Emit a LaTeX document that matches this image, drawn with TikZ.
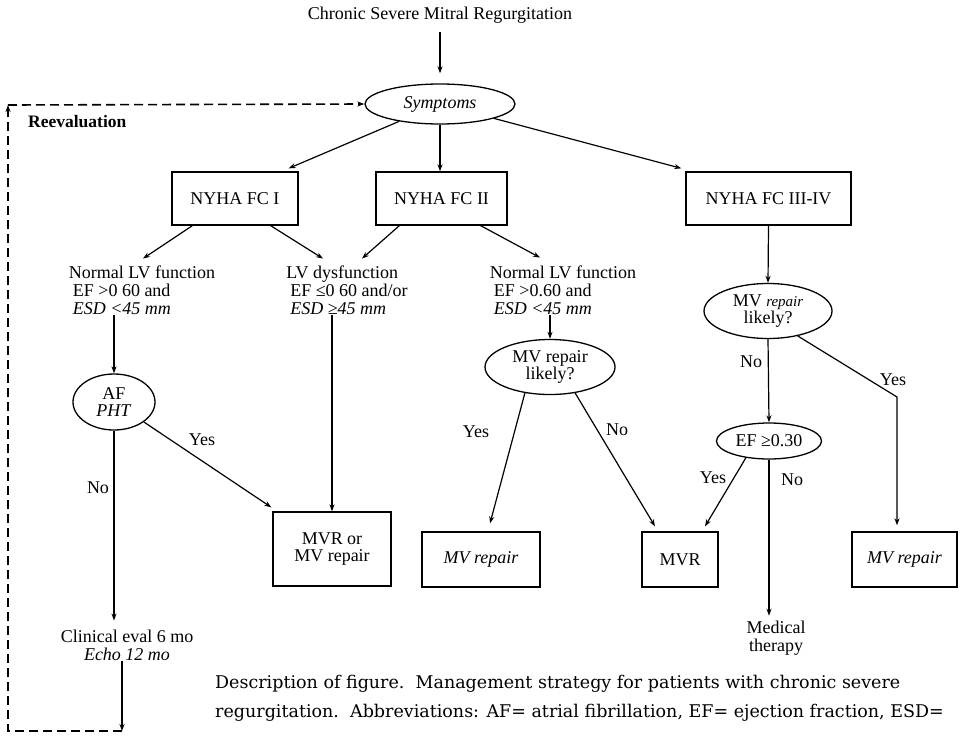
\documentclass[tikz,border=0pt]{standalone}
\usepackage{fontspec}
\setmainfont{Liberation Serif}
\newfontfamily\capfont{DejaVu Serif}
\usetikzlibrary{shapes.geometric,arrows.meta,calc}
\begin{document}
\begin{tikzpicture}[x=1pt,y=-1pt,
  every node/.style={font=\fontsize{18}{17.8}\selectfont},
  boxn/.style={draw,line width=1.3pt,minimum height=55pt,inner sep=0pt,align=center},
  oval/.style={draw,ellipse,line width=1.3pt,inner sep=0pt,align=center},
  txt/.style={align=center,inner sep=1pt},
  arr/.style={line width=1.2pt,-{Stealth[length=7pt,width=5pt]}},
  lbl/.style={inner sep=0pt},
  loopdash/.style={line width=1.6pt,dash pattern=on 9pt off 5pt},
  capf/.style={font=\capfont\fontsize{17.5}{20}\selectfont,anchor=west,inner sep=0pt}
]
\useasboundingbox (0,0) rectangle (960,736);

% nodes
\node (title) at (440,15) {Chronic Severe Mitral Regurgitation};
\node[oval,minimum width=150pt,minimum height=40pt] (sym) at (440,104) {\textit{Symptoms}};
\node[font=\fontsize{17.5}{17.5}\selectfont\bfseries,anchor=west,inner sep=0pt] (reev) at (28,122) {Reevaluation};

\node[boxn,minimum width=126pt,minimum height=53pt] (fc1) at (235,198.5) {NYHA FC I};
\node[boxn,minimum width=131pt,minimum height=53pt] (fc2) at (441.5,198.5) {NYHA FC II};
\node[boxn,minimum width=165pt,minimum height=53pt] (fc3) at (768.5,198.5) {NYHA FC III-IV};

\node[txt,align=left] (nlv1) at (142,290) {Normal LV function\\\hspace{4pt}EF >0 60 and\\\hspace{4pt}\textit{ESD <45 mm}};
\node[txt,align=left] (lvd) at (347,290) {LV dysfunction\\\hspace{4pt}EF ≤0 60 and/or\\\hspace{4pt}\textit{ESD ≥45 mm}};
\node[txt,align=left] (nlv2) at (563,290) {Normal LV function\\\hspace{4pt}EF >0.60 and\\\hspace{4pt}\textit{ESD <45 mm}};

\node[oval,minimum width=82pt,minimum height=56pt] (af) at (114,402) {AF\\\textit{PHT}};
\node[oval,minimum width=130pt,minimum height=55pt] (mvl1) at (550,367) {MV repair\\likely?};
\node[oval,minimum width=128pt,minimum height=55pt] (mvl2) at (768,311) {MV \textit{\fontsize{15}{17.8}\selectfont repair}\\likely?};
\node[oval,minimum width=105pt,minimum height=36pt] (ef) at (769,441) {EF ≥0.30};

\node[boxn,minimum width=118pt,minimum height=74pt] (mvrmv) at (332,549) {MVR or\\MV repair};
\node[boxn,minimum width=118pt] (mvrep1) at (481,559.5) {\textit{MV repair}};
\node[boxn,minimum width=76pt] (mvr) at (680,559.5) {MVR};
\node[boxn,minimum width=105pt] (mvrep2) at (904.5,559.5) {\textit{MV repair}};

\node[txt] (clin) at (127,645) {Clinical eval 6 mo\\\textit{Echo 12 mo}};
\node[txt] (med) at (776,638) {Medical\\therapy};

\node[capf] (cap1) at (215,684) {Description of figure.\ \ Management strategy for patients with chronic severe};
\node[capf] (cap2) at (215,713) {regurgitation.\ \ Abbreviations: AF= atrial fibrillation, EF= ejection fraction, ESD=};

% coordinates
\coordinate (lb) at (122,731);
\coordinate (bl) at (8,731);
\coordinate (tl) at (8,105);
\coordinate (yk) at (897,397);

% connectors
\draw[arr] ([yshift=-5pt]title.south) -- ([yshift=10pt]sym.north);
\draw[arr] (sym) -- ([xshift=-10pt,yshift=3pt]fc1.north east);
\draw[arr] (sym.south) -- (sym.south |- fc2.north);
\draw[arr] (sym) -- ([xshift=-4pt,yshift=3pt]fc3.north west);

\draw[arr] ([xshift=21pt]fc1.south west) -- ([xshift=1pt,yshift=6pt]nlv1.north);
\draw[arr] ([xshift=-28pt]fc1.south east) -- ([xshift=-24pt,yshift=6pt]lvd.north);
\draw[arr] ([xshift=24pt]fc2.south west) -- ([xshift=15pt,yshift=6pt]lvd.north);
\draw[arr] ([xshift=-27pt]fc2.south east) -- ([xshift=-23pt,yshift=7pt]nlv2.north);

\draw[arr] (nlv1.south -| af.north) -- (af.north);
\draw[arr] (lvd.south -| mvrmv.north) -- (mvrmv.north);
\draw[arr] (nlv2.south -| mvl1.north) -- (mvl1.north);
\draw[arr] (fc3.south) -- (mvl2.north);

\draw[arr] (af) -- ([xshift=-1pt,yshift=4pt]mvrmv.north west);
\draw[arr] (af.south) -- ([yshift=8pt]af.south |- clin.north);
\draw[arr] (lb |- clin.south) -- (lb);
\draw[loopdash,-{Stealth[length=7pt,width=5pt]}] (lb) -- (bl) -- (tl);
\draw[loopdash,-{Stealth[length=7pt,width=5pt]}] (tl) -- (sym.west);

\draw[arr] (mvl1.226) -- ([xshift=9pt,yshift=8pt]mvrep1.north);
\draw[arr] (mvl1.314) -- ([xshift=-25pt,yshift=5pt]mvr.north);
\draw[arr] (mvl2.south) -- (ef.north);
\draw[arr] (mvl2.-40) -- (yk) -- ([yshift=6pt]yk |- mvrep2.north);
\draw[arr] (ef.216) -- ([xshift=25pt,yshift=5pt]mvr.north);
\draw[arr] (ef.south) -- ([yshift=4pt]ef.south |- med.north);

% labels
\node[lbl] (l1) at (202,440) {Yes};
\node[lbl] (l2) at (98,488) {No};
\node[lbl] (l3) at (476,432) {Yes};
\node[lbl] (l4) at (617,430) {No};
\node[lbl] (l5) at (751,362) {No};
\node[lbl] (l6) at (893,380) {Yes};
\node[lbl] (l7) at (713,478) {Yes};
\node[lbl] (l8) at (792,480) {No};
\end{tikzpicture}
\end{document}
